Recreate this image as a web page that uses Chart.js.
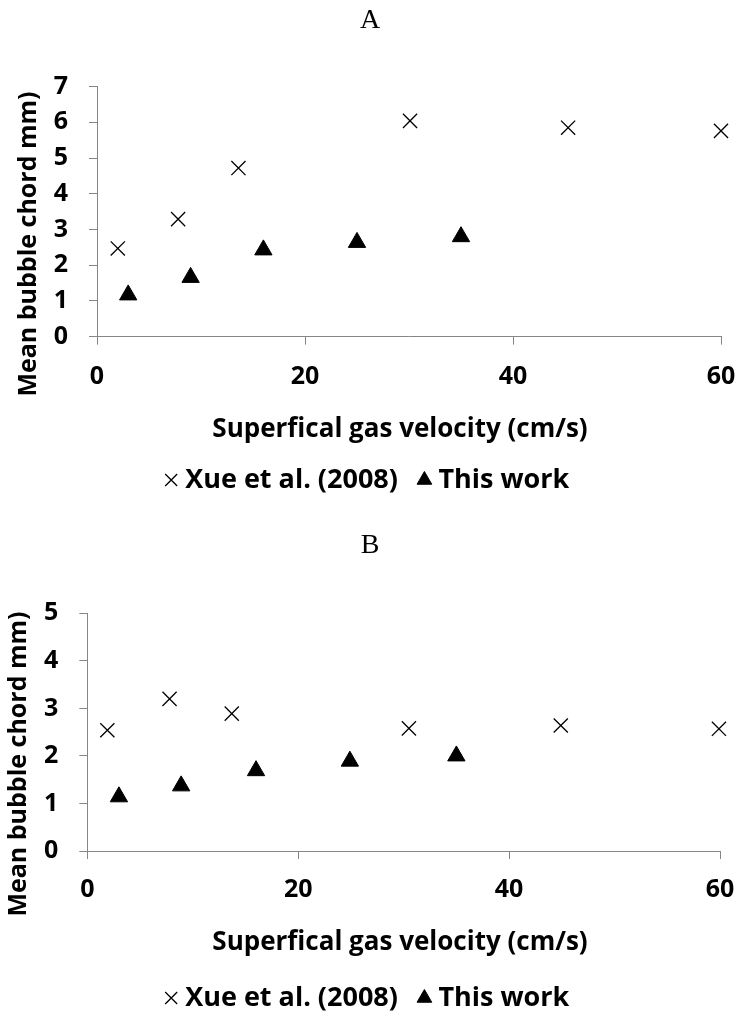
<!DOCTYPE html>
<html>
<head>
<meta charset="utf-8">
<script src="https://cdn.jsdelivr.net/npm/chart.js@4"></script>
<style>
  html, body { margin: 0; padding: 0; background: #fff; overflow: hidden; width: 740px; height: 1014px; }
  canvas { position: absolute; left: 0; display: block; }
  #ca { top: 0; }
  #cb { top: 507px; }
</style>
</head>
<body>
<canvas id="ca" width="740" height="507"></canvas>
<canvas id="cb" width="740" height="520"></canvas>
<script>
// ---- data ----
const seriesNames = ['Xue et al. (2008)', 'This work'];
const panelTitles = ['A', 'B'];
const xAxisTitle = 'Superfical gas velocity (cm/s)';
const yAxisTitle = 'Mean bubble chord mm)';
const xTickValues = [0, 20, 40, 60];
const yTickValuesA = [0, 1, 2, 3, 4, 5, 6, 7];
const yTickValuesB = [0, 1, 2, 3, 4, 5];

const xueA_x = [2, 7.8, 13.6, 30.1, 45.3, 60];
const xueA_y = [2.47, 3.29, 4.72, 6.04, 5.85, 5.76];
const workA_x = [3, 9, 16, 25, 35];
const workA_y = [1.17, 1.66, 2.43, 2.64, 2.8];

const xueB_x = [1.9, 7.8, 13.7, 30.5, 44.9, 59.9];
const xueB_y = [2.54, 3.2, 2.89, 2.58, 2.64, 2.57];
const workB_x = [3, 8.9, 16, 24.9, 35];
const workB_y = [1.14, 1.37, 1.69, 1.89, 2.0];

// ---- helpers ----
const FONT = "'Open Sans'";
const pts = (xs, ys) => xs.map((x, i) => ({ x: x, y: ys[i] }));

const axisTitlesPlugin = {
  id: 'axisTitles',
  afterDraw(chart, args, o) {
    const ctx = chart.ctx;
    ctx.save();
    ctx.fillStyle = '#000';
    ctx.textAlign = 'center';
    ctx.textBaseline = 'middle';
    ctx.font = 'bold ' + o.xSize + 'px ' + FONT;
    ctx.fillText(o.xText, o.xX, o.xY);
    ctx.font = 'bold ' + o.ySize + 'px ' + FONT;
    ctx.translate(o.yX, o.yY);
    ctx.rotate(-Math.PI / 2);
    ctx.fillText(o.yText, 0, 0);
    ctx.restore();
  }
};

function makeChart(id, cfg) {
  const axisColor = '#868686';
  const tickFont = { family: FONT, size: 25, weight: 'bold' };
  return new Chart(document.getElementById(id), {
    type: 'scatter',
    data: {
      datasets: [
        {
          label: seriesNames[0],
          data: pts(cfg.xueX, cfg.xueY),
          pointStyle: 'crossRot',
          pointRadius: 10,
          pointHoverRadius: 10,
          borderColor: '#000',
          backgroundColor: '#000',
          pointBorderWidth: 1.3,
          borderWidth: 1.3,
          clip: false
        },
        {
          label: seriesNames[1],
          data: pts(cfg.workX, cfg.workY),
          pointStyle: 'triangle',
          pointRadius: 10,
          pointHoverRadius: 10,
          borderColor: '#000',
          backgroundColor: '#000',
          borderWidth: 1,
          clip: false
        }
      ]
    },
    options: {
      responsive: false,
      animation: false,
      devicePixelRatio: 1,
      layout: { padding: { left: 0, right: 0, top: 0, bottom: cfg.padBottom } },
      plugins: {
        tooltip: { enabled: false },
        title: {
          display: true,
          text: cfg.title,
          color: '#000',
          font: { family: 'Liberation Serif', size: 28, weight: 'normal' },
          padding: { top: cfg.titleTop, bottom: cfg.titleBottom }
        },
        legend: {
          position: 'bottom',
          labels: {
            usePointStyle: true,
            boxWidth: 1,
            boxHeight: 12,
            padding: 26,
            color: '#000',
            font: { family: FONT, size: 27, weight: 'bold' }
          }
        },
        axisTitles: {
          xText: xAxisTitle, xSize: 26, xX: 400, xY: cfg.xTitleY,
          yText: yAxisTitle, ySize: 25, yX: cfg.yTitleX, yY: cfg.yTitleY
        }
      },
      scales: {
        x: {
          type: 'linear',
          min: xTickValues[0],
          max: xTickValues[xTickValues.length - 1],
          afterBuildTicks: s => { s.ticks = xTickValues.map(v => ({ value: v })); },
          afterFit: s => { s.height = cfg.xAxisH; s.paddingRight = cfg.padRight; },
          grid: { display: true, drawOnChartArea: false, drawTicks: true, tickLength: 8, color: axisColor, lineWidth: 1 },
          border: { display: true, color: axisColor, width: 1 },
          ticks: { color: '#000', font: tickFont, padding: cfg.xTickPad, maxRotation: 0 }
        },
        y: {
          type: 'linear',
          min: cfg.yTicks[0],
          max: cfg.yTicks[cfg.yTicks.length - 1],
          afterBuildTicks: s => { s.ticks = cfg.yTicks.map(v => ({ value: v })); },
          afterFit: s => { s.width = cfg.yAxisW; },
          grid: { display: true, drawOnChartArea: false, drawTicks: true, tickLength: 8, color: axisColor, lineWidth: 1 },
          border: { display: true, color: axisColor, width: 1 },
          ticks: { color: '#000', font: tickFont, padding: cfg.yTickPad }
        }
      }
    },
    plugins: [axisTitlesPlugin]
  });
}

makeChart('ca', {
  title: panelTitles[0],
  xueX: xueA_x, xueY: xueA_y, workX: workA_x, workY: workA_y,
  yTicks: yTickValuesA,
  titleTop: 4, titleBottom: 49,
  yAxisW: 97, padRight: 19,
  xAxisH: 103.8, padBottom: 3.5,
  xTickPad: 17, yTickPad: 21,
  xTitleY: 430, yTitleX: 29, yTitleY: 244
});

makeChart('cb', {
  title: panelTitles[1],
  xueX: xueB_x, xueY: xueB_y, workX: workB_x, workY: workB_y,
  yTicks: yTickValuesB,
  titleTop: 22, titleBottom: 50.7,
  yAxisW: 87.3, padRight: 20,
  xAxisH: 107.5, padBottom: 5.5,
  xTickPad: 16, yTickPad: 21,
  xTitleY: 436, yTitleX: 19, yTitleY: 257
});
</script>
</body>
</html>
